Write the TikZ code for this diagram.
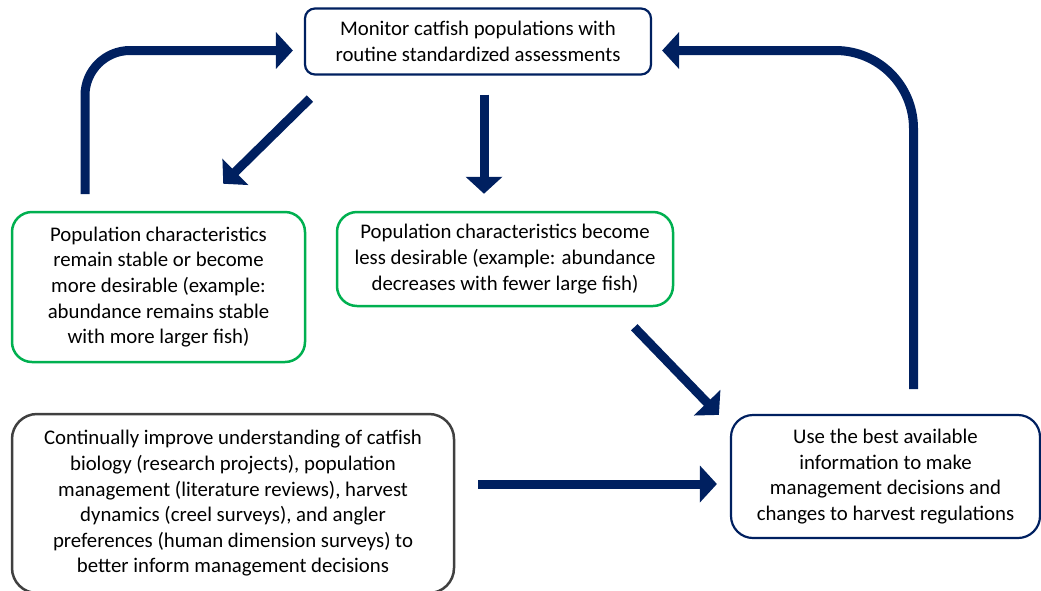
\documentclass[tikz,border=0pt]{standalone}
\usepackage{fontspec}
\setmainfont{Carlito}
\usepackage{xcolor}
\usepackage{tikz}
\usetikzlibrary{arrows.meta}
\definecolor{navyblue}{RGB}{0,32,96}
\definecolor{boxgreen}{RGB}{0,176,80}
\definecolor{darkgrey}{RGB}{64,64,64}

\begin{document}
\begin{tikzpicture}[
    x=1pt, y=-1pt,
    box/.style={draw, align=center, inner sep=0pt, font=\fontsize{20.8}{25.6}\selectfont},
    navybox/.style={box, draw=navyblue, line width=2.2pt},
    greenbox/.style={box, draw=boxgreen, line width=2.5pt, rounded corners=20pt},
    greybox/.style={box, draw=darkgrey, line width=2.5pt, rounded corners=25pt},
    flow/.style={draw=navyblue, line width=9pt, -{Triangle[length=17pt, width=36pt]}}
]
\useasboundingbox (0,0) rectangle (1041,590);

\node[navybox, rounded corners=10pt, minimum width=346pt, minimum height=66pt] (monitor) at (478,41.5) {Monitor catfish populations with\\routine standardized assessments};

\node[greenbox, minimum width=293pt, minimum height=150pt] (stable) at (158.5,287) {Population characteristics\\remain stable or become\\more desirable (example:\\abundance remains stable\\with more larger fish)};
\node[greenbox, minimum width=336pt, minimum height=94pt] (less) at (505,259) {Population characteristics become\\less desirable (example: abundance\\decreases with fewer large fish)};

\node[greybox, minimum width=442pt, minimum height=179pt] (improve) at (233,503.5) {Continually improve understanding of catfish\\biology (research projects), population\\management (literature reviews), harvest\\dynamics (creel surveys), and angler\\preferences (human dimension surveys) to\\better inform management decisions};
\node[navybox, rounded corners=22pt, minimum width=309pt, minimum height=123pt] (use) at (885.5,476.5) {Use the best available\\information to make\\management decisions and\\changes to harvest regulations};

\coordinate (stableup) at (85,194);
\coordinate (useup) at (913.5,389);

\draw[flow, rounded corners=45pt, shorten >=11pt] (stableup) |- ([yshift=-9pt]monitor.west);
\draw[flow, rounded corners=78pt, shorten >=10pt] (useup) |- ([yshift=-9pt]monitor.east);

\draw[flow] ([shift={(6pt,-23pt)}]monitor.south west) -- ([shift={(-83pt,27pt)}]stable.north east);
\draw[flow] ([shift={(6pt,-19pt)}]monitor.south) -- ([shift={(-21pt,17pt)}]less.north);
\draw[flow] ([shift={(-40pt,-20pt)}]less.south east) -- ([shift={(-11pt,-1pt)}]use.north west);
\draw[flow] ([shift={(23pt,19.5pt)}]improve.east) -- ([shift={(-13pt,-7.5pt)}]use.west);

\end{tikzpicture}
\end{document}
